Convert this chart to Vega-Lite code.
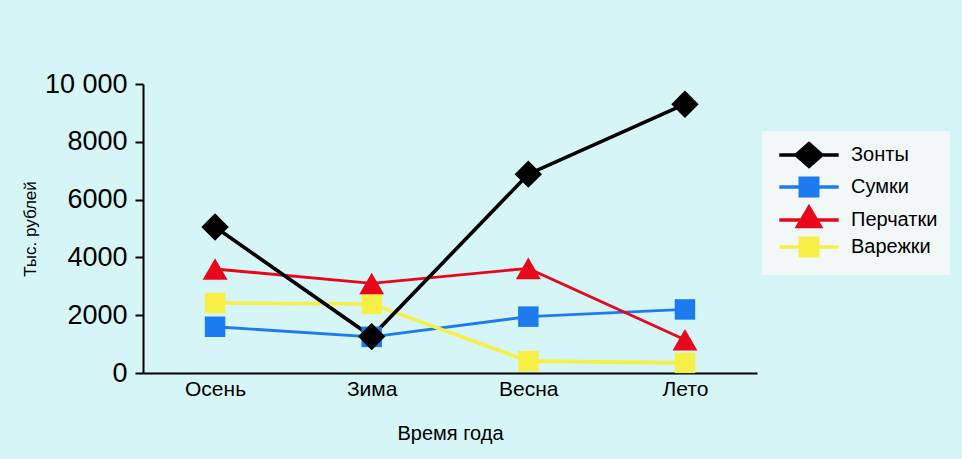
{
  "$schema": "https://vega.github.io/schema/vega-lite/v6.json",
  "width": 614,
  "height": 289,
  "autosize": {"type": "none"},
  "padding": {"left": 143, "top": 84, "right": 205, "bottom": 86},
  "background": "#d5f5f7",
  "config": {
    "view": {"stroke": null},
    "font": "Liberation Sans, Arial, sans-serif"
  },
  "data": {
    "values": [
      {"season": "Осень", "series": "Сумки", "value": 1600},
      {"season": "Зима", "series": "Сумки", "value": 1250},
      {"season": "Весна", "series": "Сумки", "value": 1950},
      {"season": "Лето", "series": "Сумки", "value": 2200},
      {"season": "Осень", "series": "Перчатки", "value": 3600},
      {"season": "Зима", "series": "Перчатки", "value": 3100},
      {"season": "Весна", "series": "Перчатки", "value": 3620},
      {"season": "Лето", "series": "Перчатки", "value": 1150},
      {"season": "Осень", "series": "Варежки", "value": 2420},
      {"season": "Зима", "series": "Варежки", "value": 2390},
      {"season": "Весна", "series": "Варежки", "value": 410},
      {"season": "Лето", "series": "Варежки", "value": 350},
      {"season": "Осень", "series": "Зонты", "value": 5050},
      {"season": "Зима", "series": "Зонты", "value": 1260},
      {"season": "Весна", "series": "Зонты", "value": 6880},
      {"season": "Лето", "series": "Зонты", "value": 9300}
    ]
  },
  "encoding": {
    "x": {
      "field": "season",
      "type": "nominal",
      "sort": ["Осень", "Зима", "Весна", "Лето"],
      "scale": {"type": "point", "padding": 0.46},
      "axis": {
        "title": "Время года",
        "ticks": false,
        "grid": false,
        "domainColor": "#000",
        "domainWidth": 2,
        "labelFontSize": 21,
        "labelColor": "#000",
        "labelPadding": 5,
        "labelAngle": 0,
        "titleFontSize": 20,
        "titleFontWeight": "normal",
        "titleColor": "#000",
        "titleY": 60,
        "titleBaseline": "middle"
      }
    },
    "y": {
      "field": "value",
      "type": "quantitative",
      "scale": {"domain": [0, 10000], "nice": false},
      "axis": {
        "values": [0, 2000, 4000, 6000, 8000, 10000],
        "labelExpr": "datum.value == 10000 ? '10 000' : '' + datum.value",
        "title": "Тыс. рублей",
        "grid": false,
        "domainColor": "#000",
        "domainWidth": 2,
        "tickColor": "#000",
        "tickWidth": 2,
        "tickSize": 8,
        "labelFontSize": 27,
        "labelColor": "#000",
        "labelPadding": 8,
        "titleFontSize": 17,
        "titleColor": "#000",
        "titleFontWeight": "normal",
        "titleX": -113,
        "titleY": 144.5,
        "titleAngle": -90,
        "titleAlign": "center",
        "titleBaseline": "middle"
      }
    },
    "color": {
      "field": "series",
      "type": "nominal",
      "scale": {
        "domain": ["Зонты", "Сумки", "Перчатки", "Варежки"],
        "range": ["#000000", "#1b7bef", "#e8081c", "#f6ef45"]
      },
      "legend": {
        "orient": "none",
        "legendX": 619,
        "legendY": 47,
        "title": null,
        "fillColor": "#f2f8f8",
        "padding": 12,
        "symbolSize": 400,
        "symbolOffset": 23,
        "labelOffset": 30,
        "labelFontSize": 20,
        "labelColor": "#000",
        "rowPadding": -3,
        "symbolStrokeWidth": 3.4,
        "encode": {
          "symbols": {
            "update": {
              "shape": {"signal": "datum.value == 'Зонты' ? 'M-2.97,0H2.97M0,-1.15L1.3,0L0,1.15L-1.3,0Z' : datum.value == 'Перчатки' ? 'M-2.97,0H2.97M0,-1.3L1.15,0.66H-1.15Z' : 'M-2.97,0H2.97M-0.88,-0.88H0.88V0.88H-0.88Z'"},
              "size": {"value": 400},
              "fill": {"scale": "color", "field": "value"},
              "stroke": {"scale": "color", "field": "value"},
              "strokeWidth": {"value": 3.4},
              "opacity": {"value": 1}
            }
          }
        }
      }
    }
  },
  "layer": [
    {
      "transform": [{"filter": "datum.series == 'Сумки' || datum.series == 'Перчатки'"}],
      "mark": {"type": "line", "strokeWidth": 2.9}
    },
    {
      "transform": [{"filter": "datum.series == 'Варежки'"}],
      "mark": {"type": "line", "strokeWidth": 3.6}
    },
    {
      "transform": [{"filter": "datum.series == 'Зонты'"}],
      "mark": {"type": "line", "strokeWidth": 3.6}
    },
    {
      "transform": [{"filter": "datum.series == 'Сумки' || datum.series == 'Варежки'"}],
      "mark": {"type": "point", "filled": true, "opacity": 1, "shape": "square", "size": 420}
    },
    {
      "transform": [{"filter": "datum.series == 'Перчатки'"}],
      "mark": {"type": "point", "filled": true, "opacity": 1, "shape": "triangle-up", "size": 620}
    },
    {
      "transform": [{"filter": "datum.series == 'Зонты'"}],
      "mark": {"type": "point", "filled": true, "opacity": 1, "shape": "diamond", "size": 750}
    }
  ]
}
